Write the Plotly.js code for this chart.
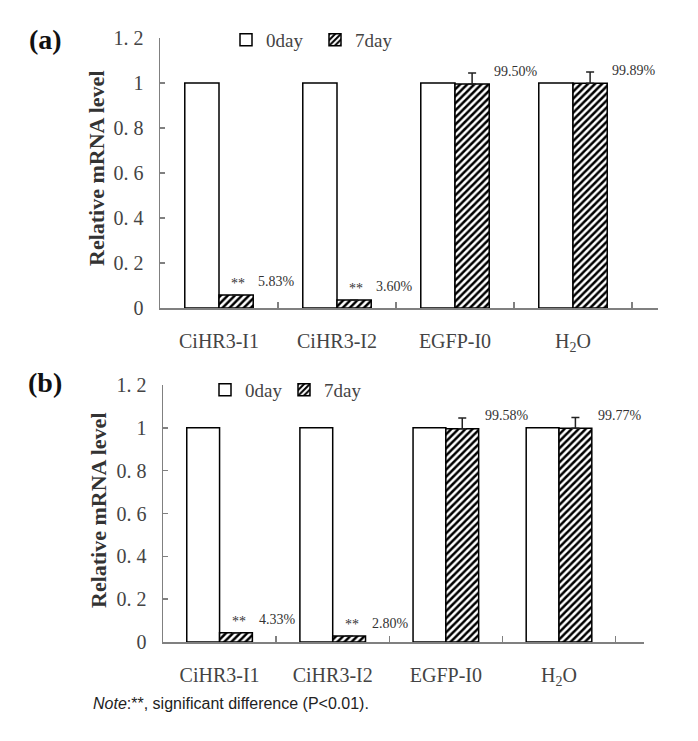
<!DOCTYPE html>
<html>
<head>
<meta charset="utf-8">
<script src="https://cdn.plot.ly/plotly-3.0.1.min.js"></script>
<style>html,body{margin:0;padding:0;background:#fff;}#chart{width:698px;height:741px;}</style>
</head>
<body>
<div id="chart"></div>
<script>
// ---- data ----
const categories = ["CiHR3-I1", "CiHR3-I2", "EGFP-I0", "H2O"];
const categoryLabels = ["CiHR3-I1", "CiHR3-I2", "EGFP-I0", "H<sub>2</sub>O"];
const seriesNames = ["0day", "7day"];

const day0A = [1, 1, 1, 1];
const day7A = [0.0583, 0.036, 0.995, 0.9989];
const err7A = [null, null, 0.05, 0.05];
const pctA = ["5.83%", "3.60%", "99.50%", "99.89%"];

const day0B = [1, 1, 1, 1];
const day7B = [0.0433, 0.028, 0.9958, 0.9977];
const err7B = [null, null, 0.05, 0.05];
const pctB = ["4.33%", "2.80%", "99.58%", "99.77%"];

const sigMarks = ["**", "**", "", ""];

const yTickVals = [0, 0.2, 0.4, 0.6, 0.8, 1, 1.2];
const yTickText = ["0", "0. 2", "0. 4", "0. 6", "0. 8", "1", "1. 2"];

// ---- styling ----
const SERIF = "Liberation Serif, Times New Roman, serif";
const GRAY = "#444";
const AXIS = "#808080";

function whiteBar(y, xa, ya, lg, show) {
  return {
    type: "bar", name: seriesNames[0], x: categories, y: y, xaxis: xa, yaxis: ya,
    legend: lg, showlegend: show,
    marker: { color: "white", line: { color: "black", width: 1.5 } },
    hoverinfo: "skip"
  };
}
function hatchBar(y, err, xa, ya, lg, show) {
  return {
    type: "bar", name: seriesNames[1], x: categories, y: y, xaxis: xa, yaxis: ya,
    legend: lg, showlegend: show,
    marker: {
      color: "white", line: { color: "black", width: 1.5 },
      pattern: { shape: "/", fgcolor: "black", bgcolor: "white", size: 5, solidity: 0.5 }
    },
    error_y: { type: "data", symmetric: false, array: err, arrayminus: err.map(() => 0),
               color: "#222", thickness: 1.5, width: 4 },
    hoverinfo: "skip"
  };
}

const traces = [
  whiteBar(day0A, "x", "y", "legend", true),
  hatchBar(day7A, err7A, "x", "y", "legend", true),
  whiteBar(day0B, "x2", "y2", "legend2", true),
  hatchBar(day7B, err7B, "x2", "y2", "legend2", true)
];

function xAxis(domain, anchor) {
  return {
    domain: domain, anchor: anchor, type: "category",
    categoryorder: "array", categoryarray: categories,
    tickvals: categories, ticktext: categoryLabels,
    showline: true, linecolor: AXIS, linewidth: 1.5,
    ticks: "inside", tickson: "boundaries", ticklen: 6, tickcolor: AXIS, tickwidth: 1.5,
    tickfont: { family: SERIF, size: 20, color: GRAY },
    ticklabelstandoff: 14,
    showgrid: false, zeroline: false, fixedrange: true
  };
}
function yAxis(domain, anchor) {
  return {
    domain: domain, anchor: anchor, range: [0, 1.2],
    tickvals: yTickVals, ticktext: yTickText,
    showline: true, linecolor: AXIS, linewidth: 1.5,
    ticks: "inside", ticklen: 5, tickcolor: AXIS, tickwidth: 1.5,
    tickfont: { family: SERIF, size: 20, color: GRAY },
    ticklabelstandoff: 11,
    showgrid: false, zeroline: false, fixedrange: true
  };
}

const W = 698, H = 741;
const px = v => v / W, py = v => 1 - v / H;

const annotations = [];
function addLabels(values, pcts, xref, yref) {
  categories.forEach((c, i) => {
    if (sigMarks[i]) {
      annotations.push({ x: c, y: values[i], xref: xref, yref: yref, text: sigMarks[i],
        showarrow: false, xanchor: "center", yanchor: "bottom", xshift: 19, yshift: 2,
        font: { family: SERIF, size: 14, color: "#333" } });
    }
    annotations.push({ x: c, y: values[i], xref: xref, yref: yref, text: pcts[i],
      showarrow: false, xanchor: "left", yanchor: "middle", xshift: 37, yshift: 13,
      font: { family: SERIF, size: 14, color: "#333" } });
  });
}
addLabels(day7A, pctA, "x", "y");
addLabels(day7B, pctB, "x2", "y2");

annotations.push(
  { text: "<b>(a)</b>", x: px(45), y: py(40), xref: "paper", yref: "paper", showarrow: false,
    xanchor: "center", yanchor: "middle", font: { family: SERIF, size: 28, color: "#111" } },
  { text: "<b>(b)</b>", x: px(45), y: py(382), xref: "paper", yref: "paper", showarrow: false,
    xanchor: "center", yanchor: "middle", font: { family: SERIF, size: 28, color: "#111" } },
  { text: "<b>Relative mRNA level</b>", x: px(96), y: py(168), xref: "paper", yref: "paper",
    showarrow: false, textangle: -90, xanchor: "center", yanchor: "middle",
    font: { family: SERIF, size: 22, color: "#333" } },
  { text: "<b>Relative mRNA level</b>", x: px(99), y: py(510), xref: "paper", yref: "paper",
    showarrow: false, textangle: -90, xanchor: "center", yanchor: "middle",
    font: { family: SERIF, size: 22, color: "#333" } },
  { text: "<i>Note</i>:**, significant difference (P&lt;0.01).", x: px(91), y: py(703),
    xref: "paper", yref: "paper", showarrow: false, xanchor: "left", yanchor: "middle",
    font: { family: "Liberation Sans, Arial, sans-serif", size: 16, color: "#222" } }
);

const legendStyle = {
  orientation: "h", xanchor: "left", yanchor: "middle",
  font: { family: SERIF, size: 19, color: GRAY },
  bgcolor: "rgba(0,0,0,0)", borderwidth: 0, traceorder: "normal", itemclick: false,
  entrywidthmode: "pixels"
};

const layout = {
  width: W, height: H,
  margin: { l: 0, r: 0, t: 0, b: 0, pad: 0 },
  paper_bgcolor: "white", plot_bgcolor: "white",
  barmode: "group", bargap: 0.42, bargroupgap: 0,
  xaxis: xAxis([px(160), px(658)], "y"),
  yaxis: yAxis([py(308), py(38)], "x"),
  xaxis2: xAxis([px(163), px(644)], "y2"),
  yaxis2: yAxis([py(642), py(385)], "x2"),
  legend: Object.assign({}, legendStyle, { x: px(226), y: py(40), entrywidth: 44 }),
  legend2: Object.assign({}, legendStyle, { x: px(205), y: py(390), entrywidth: 34 }),
  annotations: annotations,
  showlegend: true
};

Plotly.newPlot("chart", traces, layout, { staticPlot: true, displayModeBar: false });
</script>
</body>
</html>
